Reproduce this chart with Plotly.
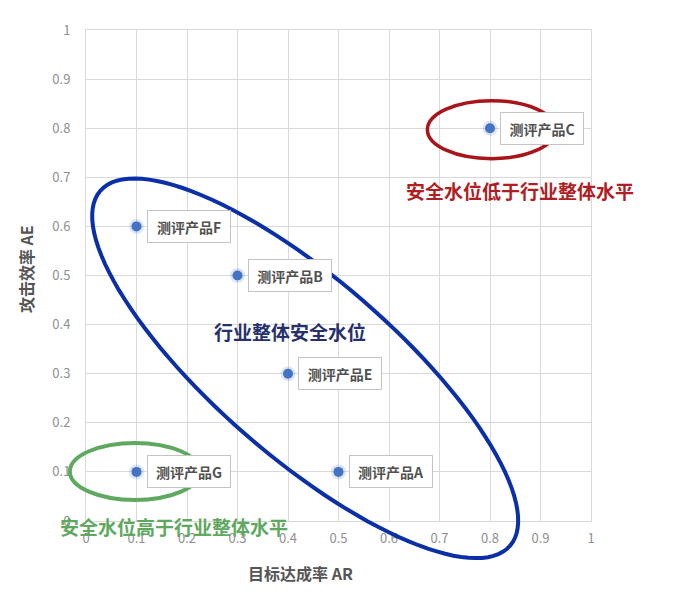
import numpy as np
import plotly.graph_objects as go

# product positions
products = ["测评产品F", "测评产品B", "测评产品C", "测评产品E", "测评产品G", "测评产品A"]
ar = [0.1, 0.3, 0.8, 0.4, 0.1, 0.5]
ae = [0.6, 0.5, 0.8, 0.3, 0.1, 0.1]

tick_vals = [0, 0.1, 0.2, 0.3, 0.4, 0.5, 0.6, 0.7, 0.8, 0.9, 1]
tick_text = ["0", "0.1", "0.2", "0.3", "0.4", "0.5", "0.6", "0.7", "0.8", "0.9", "1"]

FONT = "Noto Sans CJK SC, Noto Sans, sans-serif"
GRID = "#d9d9d9"

fig = go.Figure()

# soft glow under markers
fig.add_trace(go.Scatter(
    x=ar, y=ae, mode="markers",
    marker=dict(size=15, color="#4472C4", opacity=0.18),
    hoverinfo="skip", showlegend=False, cliponaxis=False,
))
fig.add_trace(go.Scatter(
    x=ar, y=ae, mode="markers",
    marker=dict(size=10, color="#4472C4"),
    showlegend=False, cliponaxis=False,
))

for name, x, y in zip(products, ar, ae):
    fig.add_annotation(
        x=x, y=y, text="<b>%s</b>" % name, showarrow=False,
        xanchor="left", xshift=10, width=70, height=19,
        font=dict(family=FONT, size=14, color="#505050"),
        bgcolor="white", bordercolor="#c4c4c4", borderwidth=1, borderpad=6,
    )

# rotated ellipse around the industry cluster (paper coords == data coords, range 0..1)
px_x, px_y = 505.0, 491.0
cx, cy = 0.434, 0.311
a, b = 271.0, 89.0
ux, uy = 0.756, -0.655
vx, vy = 0.655, 0.756
t = np.linspace(0, 2 * np.pi, 121)
ex = cx + (a * np.cos(t) * ux + b * np.sin(t) * vx) / px_x
ey = cy + (a * np.cos(t) * uy + b * np.sin(t) * vy) / px_y
path = "M " + " L ".join("%.4f,%.4f" % (x, y) for x, y in zip(ex, ey)) + " Z"
fig.add_shape(type="path", path=path, xref="paper", yref="paper",
              line=dict(color="#0A2FA8", width=4))

# red and green ellipses
fig.add_shape(type="circle", xref="paper", yref="paper",
              x0=0.676, x1=0.930, y0=0.738, y1=0.856,
              line=dict(color="#A8141A", width=3.5))
fig.add_shape(type="circle", xref="paper", yref="paper",
              x0=-0.032, x1=0.226, y0=0.043, y1=0.159,
              line=dict(color="#5FA860", width=4))

notes = [
    ("安全水位低于行业整体水平", 0.859, 0.674, "#B01E23"),
    ("行业整体安全水位", 0.404, 0.386, "#27306F"),
    ("安全水位高于行业整体水平", 0.174, -0.012, "#5FA860"),
]
for text, x, y, color in notes:
    fig.add_annotation(x=x, y=y, xref="paper", yref="paper",
                       xanchor="center", yanchor="middle",
                       text="<b>%s</b>" % text, showarrow=False,
                       font=dict(family=FONT, size=19, color=color))

# axis titles (placed off-centre like the original)
fig.add_annotation(x=0.424, y=-0.106, xref="paper", yref="paper",
                   xanchor="center", yanchor="middle",
                   text="<b>目标达成率 AR</b>", showarrow=False,
                   font=dict(family=FONT, size=16, color="#555555"))
fig.add_annotation(x=-0.119, y=0.513, xref="paper", yref="paper",
                   xanchor="center", yanchor="middle", textangle=-90,
                   text="<b>攻击效率 AE</b>", showarrow=False,
                   font=dict(family=FONT, size=16, color="#555555"))

axis_common = dict(
    range=[0, 1], tickvals=tick_vals, ticktext=tick_text,
    showgrid=True, gridcolor=GRID, gridwidth=1,
    showline=True, linecolor=GRID, mirror=True, zeroline=False,
    ticks="", tickfont=dict(family=FONT, size=13, color="#8f8f8f"),
    fixedrange=True,
)

fig.update_layout(
    width=695, height=604,
    margin=dict(l=78, r=112, t=22, b=91),
    paper_bgcolor="white", plot_bgcolor="white",
    font=dict(family=FONT),
    xaxis=dict(axis_common, ticklabelstandoff=5),
    yaxis=dict(axis_common, ticklabelstandoff=12),
)

fig.write_html("out.html")
